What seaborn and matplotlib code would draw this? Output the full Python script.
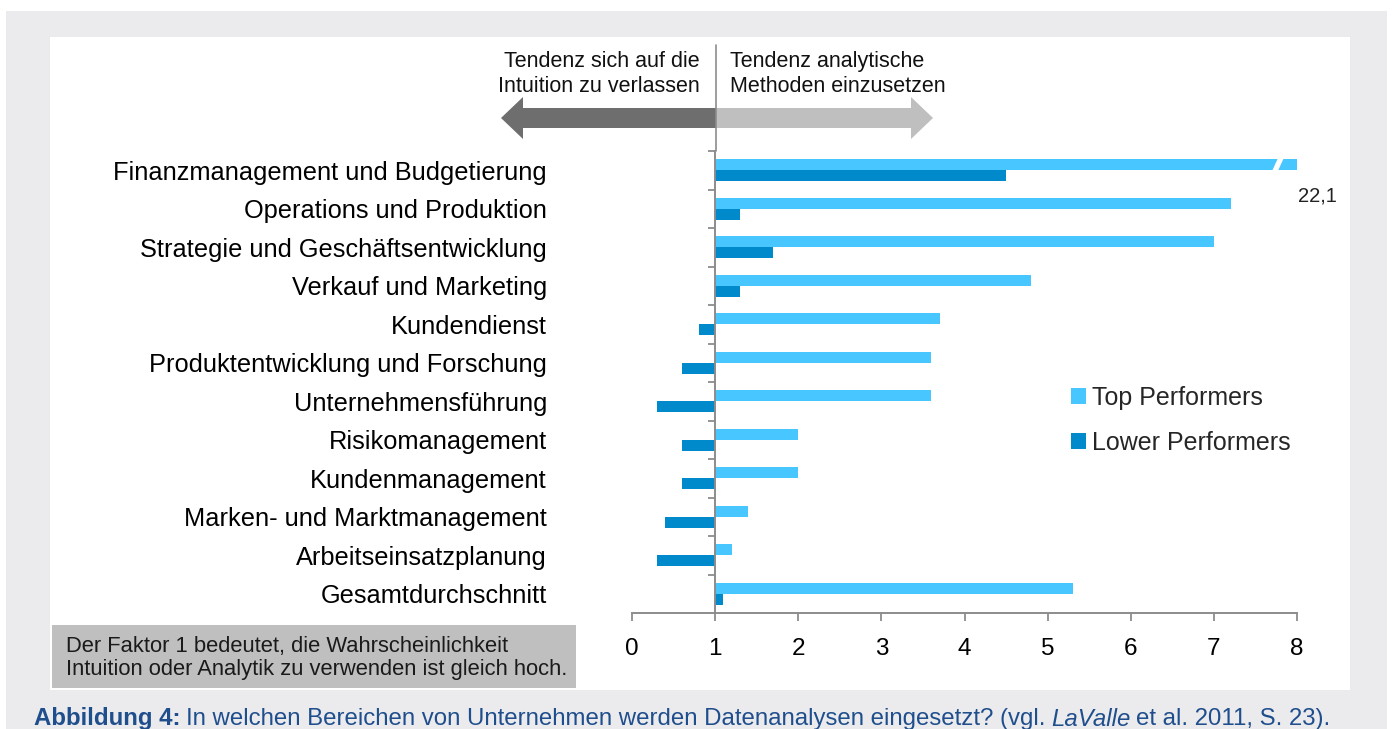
import matplotlib
matplotlib.use("Agg")
import matplotlib.pyplot as plt
import seaborn as sns
import pandas as pd
import numpy as np
from matplotlib.patches import Rectangle, Polygon

# ---------------- data ----------------
categories = [
    "Finanzmanagement und Budgetierung",
    "Operations und Produktion",
    "Strategie und Geschäftsentwicklung",
    "Verkauf und Marketing",
    "Kundendienst",
    "Produktentwicklung und Forschung",
    "Unternehmensführung",
    "Risikomanagement",
    "Kundenmanagement",
    "Marken- und Marktmanagement",
    "Arbeitseinsatzplanung",
    "Gesamtdurchschnitt",
]
top_performers = [22.1, 7.2, 7.0, 4.8, 3.7, 3.6, 3.6, 2.0, 2.0, 1.4, 1.2, 5.3]
lower_performers = [4.5, 1.3, 1.7, 1.3, 0.8, 0.6, 0.3, 0.6, 0.6, 0.4, 0.3, 1.1]
series_names = ["Top Performers", "Lower Performers"]
x_ticks = [0, 1, 2, 3, 4, 5, 6, 7, 8]
baseline = 1.0
break_label = "22,1"

W, H, DPI = 1395, 729, 100
FONT = ["Liberation Sans", "DejaVu Sans"]

sns.set_theme(style="white")
plt.rcParams["font.family"] = FONT

df = pd.DataFrame({
    "Bereich": categories * 2,
    "Gruppe": [series_names[0]] * len(categories) + [series_names[1]] * len(categories),
    "Faktor": top_performers + lower_performers,
})
# bars are drawn relative to the factor 1 baseline
df["Abweichung"] = df["Faktor"] - baseline

fig = plt.figure(figsize=(W / DPI, H / DPI), dpi=DPI)
fig.patch.set_facecolor("white")

def px(x, y):
    return (x / W, 1 - y / H)

# outer grey background and inner white panel
fig.patches.append(Rectangle(px(6, 729), (1387 - 6) / W, (729 - 11) / H,
                             transform=fig.transFigure, facecolor="#EBEBEE",
                             edgecolor="none", zorder=-3))
fig.patches.append(Rectangle(px(50, 690), (1350 - 50) / W, (690 - 37) / H,
                             transform=fig.transFigure, facecolor="white",
                             edgecolor="none", zorder=-2))

ax = fig.add_axes([632 / W, 1 - 613 / H, (1297 - 632) / W, (613 - 151) / H])
ax.set_facecolor("none")

palette = {series_names[0]: "#47C6FF", series_names[1]: "#008ACB"}
sns.barplot(data=df, y="Bereich", x="Abweichung", hue="Gruppe",
            order=categories, hue_order=series_names, palette=palette,
            orient="h", width=0.58, dodge=True, saturation=1,
            ax=ax, legend=True, linewidth=0)

ax.set_xlim(x_ticks[0] - baseline, x_ticks[-1] - baseline)
ax.set_ylim(len(categories) - 0.5, -0.5)
ax.set_xticks([t - baseline for t in x_ticks])
ax.set_xticklabels([str(t) for t in x_ticks], fontsize=17.5)
ax.set_xlabel("")
ax.set_ylabel("")

for s in ["top", "right"]:
    ax.spines[s].set_visible(False)
ax.spines["left"].set_position(("data", 0))
ax.spines["left"].set_color("#8C8C8C")
ax.spines["left"].set_linewidth(1.4)
ax.spines["bottom"].set_color("#8C8C8C")
ax.spines["bottom"].set_linewidth(1.4)

ax.tick_params(axis="x", direction="out", length=6, width=1.3, color="#8C8C8C",
               bottom=True, pad=12, labelcolor="black")
ax.set_yticks(range(len(categories)))
ax.set_yticklabels(categories, fontsize=18.3)
ax.tick_params(axis="y", which="major", length=0, pad=121, labelcolor="black")
ax.set_yticks(np.arange(-0.5, len(categories) - 0.5, 1.0), minor=True)
ax.tick_params(axis="y", which="minor", direction="out", length=5, width=1.3,
               color="#8C8C8C", left=True)

# break mark on the clipped bar
top_bar = ax.patches[0]
ybar = top_bar.get_y()
hbar = top_bar.get_height()
xb = 7.75 - baseline
brk = Polygon([[xb - 0.05, ybar + hbar + 0.02], [xb + 0.02, ybar + hbar + 0.02],
               [xb + 0.09, ybar - 0.02], [xb + 0.02, ybar - 0.02]],
              closed=True, facecolor="white", edgecolor="none", zorder=5)
ax.add_patch(brk)
ax.text(x_ticks[-1] - baseline + 0.01, 0.68, break_label, fontsize=14.5,
        ha="left", va="center", color="#222222", clip_on=False)

# legend
handles, labels = ax.get_legend_handles_labels()
leg = ax.legend(handles, labels, loc="upper left", bbox_to_anchor=px(1058, 373),
                bbox_transform=fig.transFigure, frameon=False, fontsize=18,
                handlelength=0.6, handleheight=0.6, handletextpad=0.25,
                labelspacing=0.85, borderpad=0)

# vertical line above axis
fig.add_artist(plt.Line2D([716 / W, 716 / W], [1 - 45 / H, 1 - 151 / H],
                          transform=fig.transFigure, color="#8C8C8C", lw=1.2))

# arrows
def poly_px(pts, color):
    fig.patches.append(Polygon([px(x, y) for x, y in pts], closed=True,
                               transform=fig.transFigure, facecolor=color,
                               edgecolor="none", zorder=1))

cy = 118
poly_px([(716, cy - 10), (523, cy - 10), (523, cy - 21), (501, cy),
         (523, cy + 21), (523, cy + 10), (716, cy + 10)], "#6E6E6E")
poly_px([(716, cy - 10), (911, cy - 10), (911, cy - 21), (933, cy),
         (911, cy + 21), (911, cy + 10), (716, cy + 10)], "#BFBFBF")

fig.text(*px(700, 74), "Tendenz sich auf die\nIntuition zu verlassen",
         ha="right", va="center", fontsize=15.5, linespacing=1.2, color="#111111")
fig.text(*px(730, 74), "Tendenz analytische\nMethoden einzusetzen",
         ha="left", va="center", fontsize=15.5, linespacing=1.2, color="#111111")

# note box
fig.patches.append(Rectangle(px(52, 688), (576 - 52) / W, (688 - 625) / H,
                             transform=fig.transFigure, facecolor="#BFBFBF",
                             edgecolor="none", zorder=0))
fig.text(*px(66, 658), "Der Faktor 1 bedeutet, die Wahrscheinlichkeit\n"
         "Intuition oder Analytik zu verwenden ist gleich hoch.",
         ha="left", va="center", fontsize=15.8, linespacing=1.15, color="#1a1a1a")

# caption
cap_y = 719
fs_cap = 17.3
t1 = fig.text(*px(34, cap_y), "Abbildung 4:", ha="left", va="center",
              fontsize=fs_cap, fontweight="bold", color="#1F4E8C")
fig.canvas.draw()
bb = t1.get_window_extent()
t2 = fig.text((bb.x1 + 5) / W, 1 - cap_y / H,
              "In welchen Bereichen von Unternehmen werden Datenanalysen eingesetzt? (vgl. ",
              ha="left", va="center", fontsize=fs_cap, color="#1F4E8C")
fig.canvas.draw()
bb2 = t2.get_window_extent()
t3 = fig.text(bb2.x1 / W, 1 - cap_y / H, "LaValle", ha="left", va="center",
              fontsize=fs_cap, style="italic", color="#1F4E8C")
fig.canvas.draw()
bb3 = t3.get_window_extent()
fig.text((bb3.x1 + 5) / W, 1 - cap_y / H, "et al. 2011, S. 23).", ha="left",
         va="center", fontsize=fs_cap, color="#1F4E8C")

fig.savefig("out.png", dpi=DPI)
